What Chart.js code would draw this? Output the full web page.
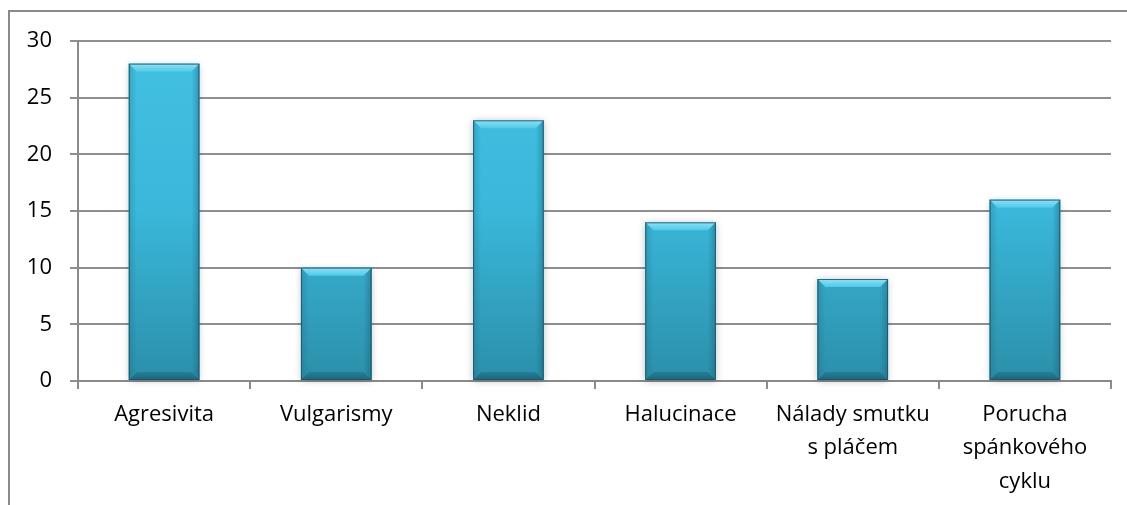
<!DOCTYPE html>
<html>
<head>
<meta charset="utf-8">
<script src="https://cdn.jsdelivr.net/npm/chart.js@4/dist/chart.umd.min.js"></script>
<style>
  html, body { margin: 0; padding: 0; background: #ffffff; overflow: hidden; }
  #wrap { position: relative; width: 1127px; height: 505px; }
  #frame { position: absolute; left: 8px; top: 10px; width: 1200px; height: 600px;
           border-left: 2px solid #8a8a8a; border-top: 2px solid #8a8a8a; }
  canvas { position: absolute; left: 0; top: 0; }
</style>
</head>
<body>
<div id="wrap">
  <div id="frame"></div>
  <canvas id="chart" width="1127" height="505"></canvas>
</div>
<script>
// Symptom categories and counts
const categories = [
  'Agresivita',
  'Vulgarismy',
  'Neklid',
  'Halucinace',
  ['Nálady smutku', 's pláčem'],
  ['Porucha', 'spánkového', 'cyklu']
];
const counts = [28, 10, 23, 14, 9, 16];
const yTicks = [0, 5, 10, 15, 20, 25, 30];

const FONT = '"Open Sans", Lato, sans-serif';

// Bevelled, shaded look for each bar, drawn over the bar geometry from the scales
const bevelBars = {
  id: 'bevelBars',
  beforeDatasetsDraw(chart) {
    const ctx = chart.ctx;
    chart.getDatasetMeta(0).data.forEach(bar => {
      const l = bar.x - bar.width / 2, r = bar.x + bar.width / 2;
      const t = bar.y, b = bar.base;
      ctx.save();
      ctx.shadowColor = 'rgba(0,0,0,0.25)';
      ctx.shadowBlur = 7;
      ctx.shadowOffsetX = 0;
      ctx.shadowOffsetY = 1;
      ctx.fillStyle = '#3aa9c8';
      ctx.fillRect(l, t, r - l, b - t);
      ctx.restore();
    });
  },
  afterDatasetsDraw(chart) {
    const ctx = chart.ctx;
    chart.getDatasetMeta(0).data.forEach(bar => {
      const l = bar.x - bar.width / 2, r = bar.x + bar.width / 2;
      const t = bar.y, b = bar.base;
      const d = 8;
      ctx.save();
      // top bevel
      let g = ctx.createLinearGradient(0, t, 0, t + d);
      g.addColorStop(0, '#8ee2f5');
      g.addColorStop(1, '#4fc9e8');
      ctx.fillStyle = g;
      ctx.beginPath();
      ctx.moveTo(l, t); ctx.lineTo(r, t); ctx.lineTo(r - d, t + d); ctx.lineTo(l + d, t + d);
      ctx.closePath(); ctx.fill();
      // left bevel (subtle)
      g = ctx.createLinearGradient(l, 0, l + d, 0);
      g.addColorStop(0, 'rgba(20,90,110,0.25)');
      g.addColorStop(1, 'rgba(20,90,110,0)');
      ctx.fillStyle = g;
      ctx.beginPath();
      ctx.moveTo(l, t); ctx.lineTo(l + d, t + d); ctx.lineTo(l + d, b - d); ctx.lineTo(l, b);
      ctx.closePath(); ctx.fill();
      // right bevel (subtle)
      g = ctx.createLinearGradient(r, 0, r - d, 0);
      g.addColorStop(0, 'rgba(15,75,95,0.35)');
      g.addColorStop(1, 'rgba(15,75,95,0)');
      ctx.fillStyle = g;
      ctx.beginPath();
      ctx.moveTo(r, t); ctx.lineTo(r - d, t + d); ctx.lineTo(r - d, b - d); ctx.lineTo(r, b);
      ctx.closePath(); ctx.fill();
      // bottom bevel
      g = ctx.createLinearGradient(0, b - d, 0, b);
      g.addColorStop(0, 'rgba(30,115,140,0.6)');
      g.addColorStop(1, 'rgba(25,95,115,0.9)');
      ctx.fillStyle = g;
      ctx.beginPath();
      ctx.moveTo(l, b); ctx.lineTo(l + d, b - d); ctx.lineTo(r - d, b - d); ctx.lineTo(r, b);
      ctx.closePath(); ctx.fill();
      // outline
      ctx.strokeStyle = 'rgba(25,85,105,0.85)';
      ctx.lineWidth = 1;
      ctx.strokeRect(l + 0.5, t + 0.5, r - l - 1, b - t - 1);
      ctx.restore();
    });
  }
};

const ctx = document.getElementById('chart').getContext('2d');
new Chart(ctx, {
  type: 'bar',
  data: {
    labels: categories,
    datasets: [{
      data: counts,
      backgroundColor: (c) => {
        const area = c.chart.chartArea;
        if (!area) return '#3bb8dc';
        const el = c.element;
        const top = el && el.y !== undefined ? el.y : area.top;
        const base = el && el.base !== undefined ? el.base : area.bottom;
        const g = c.chart.ctx.createLinearGradient(0, top, 0, base);
        g.addColorStop(0, '#43c1e3');
        g.addColorStop(0.5, '#3ab7da');
        g.addColorStop(1, '#2b8fa9');
        return g;
      },
      borderWidth: 0,
      categoryPercentage: 0.82,
      barPercentage: 0.5
    }]
  },
  options: {
    responsive: false,
    animation: false,
    devicePixelRatio: 1,
    layout: { padding: { top: 41, right: 16, left: 0, bottom: 0 } },
    plugins: {
      legend: { display: false },
      tooltip: { enabled: false },
      title: { display: false }
    },
    scales: {
      x: {
        offset: true,
        afterFit: (s) => { s.height = 124; },
        border: { display: true, color: '#8a8a8a', width: 2 },
        grid: {
          offset: true,
          drawOnChartArea: false,
          drawTicks: true,
          tickLength: 8,
          color: '#8a8a8a',
          lineWidth: 2
        },
        ticks: {
          color: '#000000',
          padding: 9,
          maxRotation: 0,
          autoSkip: false,
          font: { family: FONT, size: 22, lineHeight: 1.52 }
        }
      },
      y: {
        min: 0,
        max: 30,
        afterFit: (s) => { s.width = 78; },
        afterBuildTicks: (s) => { s.ticks = yTicks.map(v => ({ value: v })); },
        border: { display: true, color: '#8a8a8a', width: 2 },
        grid: {
          color: '#8f8f8f',
          lineWidth: 2,
          drawTicks: true,
          tickLength: 8
        },
        ticks: {
          color: '#000000',
          padding: 18,
          font: { family: FONT, size: 22 }
        }
      }
    }
  },
  plugins: [bevelBars]
});
</script>
</body>
</html>
